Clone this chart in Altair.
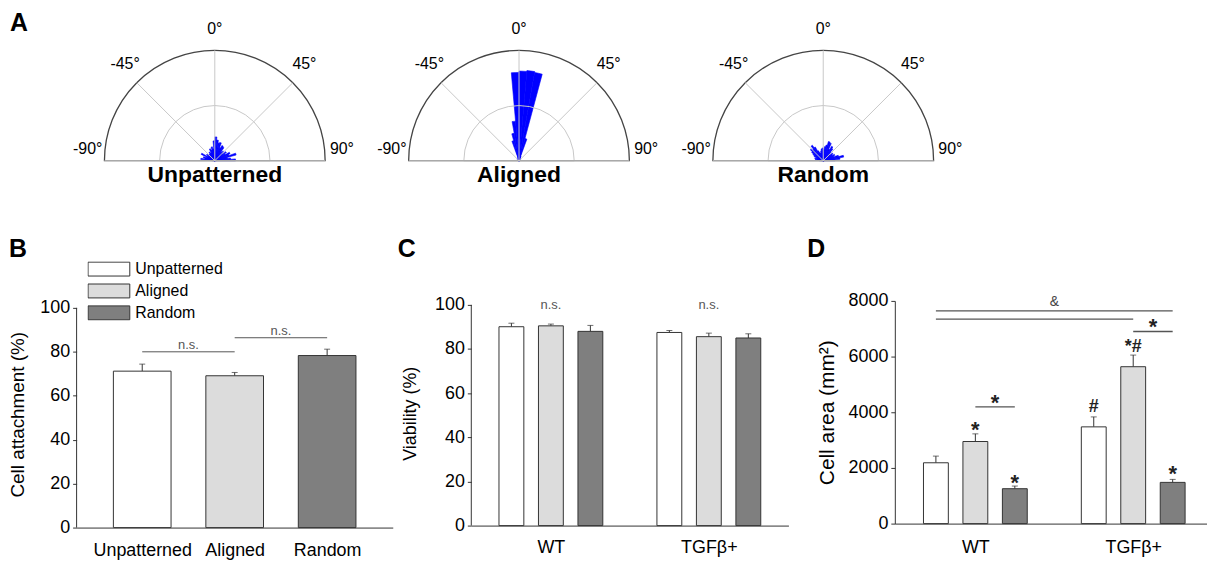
import json
import math
import numpy as np
import pandas as pd
import altair as alt

FONT = "Liberation Sans"
INK = "#333333"
GRID = "#c8c8c8"
ROSE = "#0000ff"

# ---------------- Panel A: angular distribution (% of cells per 5-degree bin) -------------
bin_starts = list(range(-90, 90, 5))
bin_width = 5
rose_unpatterned = [0.7, 3.2, 2.3, 2.7, 2.0, 3.4, 1.8, 2.3, 1.6, 2.0, 1.8, 2.3, 2.0, 2.9, 2.5, 3.2, 2.7, 4.5,
                    5.4, 4.7, 4.1, 4.3, 3.2, 3.8, 3.6, 2.5, 2.9, 2.3, 3.2, 2.7, 3.8, 3.4, 5.0, 2.9, 3.6, 4.7]
rose_aligned = [0.2, 0.2, 0.2, 0.2, 0.5, 0.2, 0.2, 0.2, 0.5, 0.2, 0.5, 0.2, 0.5, 0.7, 4.7, 6.3, 9.0, 20.0,
                20.3, 20.5, 20.3, 5.2, 1.1, 0.5, 0.2, 0.5, 0.2, 0.2, 0.2, 0.5, 0.2, 0.2, 0.2, 0.2, 0.2, 0.2]
rose_random = [0.9, 1.8, 1.4, 2.0, 1.6, 2.3, 2.7, 3.2, 3.8, 3.4, 4.3, 3.6, 2.5, 2.0, 1.8, 2.3, 2.7, 2.9,
               2.5, 3.2, 3.6, 4.5, 4.3, 2.9, 3.8, 3.4, 2.5, 2.0, 2.7, 2.3, 2.9, 2.5, 3.6, 4.7, 3.8, 2.7]
grid_angles = [-90, -45, 0, 45, 90]
angle_labels = ["-90°", "-45°", "0°", "45°", "90°"]
ring_pct = [12.5, 25.0]
polar_titles = ["Unpatterned", "Aligned", "Random"]

# ---------------- Panel B: cell attachment ----------------
conditions = ["Unpatterned", "Aligned", "Random"]
cond_colors = ["#ffffff", "#dcdcdc", "#7f7f7f"]
attach_mean = [71.2, 69.1, 78.3]
attach_err = [3.2, 1.5, 2.9]
attach_ns_from = [0, 1]
attach_ns_to = [1, 2]
attach_ns_y = [80.0, 86.4]

# ---------------- Panel C: viability ----------------
groups = ["WT", "TGFβ+"]
via_wt = [90.1, 90.5, 88.0]
via_wt_err = [1.6, 0.8, 2.7]
via_tgf = [87.5, 85.6, 85.0]
via_tgf_err = [0.9, 1.6, 1.9]
via_ns_pos = [1, 5]
via_ns_y = [97.0, 97.0]

# ---------------- Panel D: cell area ----------------
area_wt = [2185, 2949, 1254]
area_wt_err = [240, 275, 95]
area_tgf = [3475, 5636, 1481]
area_tgf_err = [358, 418, 107]
bracket_from = [0, 0, 5, 1]
bracket_to = [6, 5, 6, 2]
bracket_y = [7642, 7343, 6901, 4191]
star_pos = [1, 2, 1.5, 6, 5.5]
star_y = [3558, 1684, 4537, 2006, 7260]
hash_pos = [4, 5]
hash_y = [4275, 6400]
hash_text = ["#", "*#"]
amp_pos = [3]
amp_y = [8012]

# ======================= Panel A builder =======================
PX = 111.0 / 25.0  # pixels per percent


def polar_panel(title, values, left_px, letter=None):
    right_px, top_px, bottom_px = 150, 152, 43
    xs = alt.Scale(domain=[-left_px / PX, right_px / PX], nice=False, zero=False)
    ys = alt.Scale(domain=[-bottom_px / PX, top_px / PX], nice=False, zero=False)
    ts = alt.Scale(domain=[-90, 90], range=[1.5 * math.pi, 2.5 * math.pi])
    rs = alt.Scale(type="linear", domain=[0, 25], range=[0, 111], zero=True)

    rose = pd.DataFrame({"a0": bin_starts, "r": values})
    rose["a1"] = rose["a0"] + bin_width

    spokes = pd.DataFrame({"a": grid_angles})
    rad = np.radians(spokes["a"])
    spokes["x0"] = 0.0
    spokes["y0"] = 0.0
    spokes["x1"] = ring_pct[-1] * np.sin(rad)
    spokes["y1"] = ring_pct[-1] * np.cos(rad)

    spoke_layer = alt.Chart(spokes).mark_rule(color=GRID, strokeWidth=1).encode(
        x=alt.X("x0:Q", scale=xs, axis=None), y=alt.Y("y0:Q", scale=ys, axis=None),
        x2="x1:Q", y2="y1:Q")

    # polar origin in pixels inside this panel (layout, not data)
    cx, cy = alt.value(left_px), alt.value(top_px)

    rose_layer = alt.Chart(rose).mark_arc(fill=ROSE, stroke=ROSE, strokeWidth=0.6).encode(
        x=cx, y=cy,
        theta=alt.Theta("a0:Q", scale=ts, stack=None), theta2="a1:Q",
        radius=alt.Radius("r:Q", scale=rs))

    rings = pd.DataFrame({"a0": [-90.0, -90.0], "a1": [90.0, 90.0], "r": ring_pct})

    def ring_layer(idx, color, width):
        return alt.Chart(rings.iloc[[idx]]).mark_arc(filled=False, stroke=color, strokeWidth=width).encode(
            x=cx, y=cy,
            theta=alt.Theta("a0:Q", scale=ts, stack=None), theta2="a1:Q",
            radius=alt.Radius("r:Q", scale=rs))

    lab = pd.DataFrame({"a": grid_angles, "t": angle_labels})
    side = lab["a"].abs() == 90
    rad = np.radians(lab["a"] * 0.955)   # labels sit slightly toward the vertical
    lab["x"] = np.where(side, 28.8 * np.sign(lab["a"]), 29.8 * np.sin(rad))
    lab["y"] = np.where(side, 2.7, 29.8 * np.cos(rad))
    label_layer = alt.Chart(lab).mark_text(font=FONT, fontSize=16, color="black").encode(
        x=alt.X("x:Q", scale=xs, axis=None), y=alt.Y("y:Q", scale=ys, axis=None), text="t:N")

    tdf = pd.DataFrame({"t": [title], "x": [0.0], "y": [-3.2]})
    title_layer = alt.Chart(tdf).mark_text(font=FONT, fontSize=23, fontWeight="bold", color="black").encode(
        x=alt.X("x:Q", scale=xs, axis=None), y=alt.Y("y:Q", scale=ys, axis=None), text="t:N")

    layers = [rose_layer, ring_layer(0, GRID, 1), ring_layer(1, "#444444", 1.3), spoke_layer,
              label_layer, title_layer]
    if letter:
        layers.append(alt.Chart(pd.DataFrame({"t": [letter]})).mark_text(
            font=FONT, fontSize=25, fontWeight="bold", color="black").encode(
            text="t:N", x=alt.value(-58), y=alt.value(14)))
    return alt.layer(*layers).properties(width=left_px + right_px, height=top_px + bottom_px)


pA1 = polar_panel(polar_titles[0], rose_unpatterned, 139, letter="A")
pA2 = polar_panel(polar_titles[1], rose_aligned, 150)
pA3 = polar_panel(polar_titles[2], rose_random, 150)

# ======================= Bar panel helpers =======================
color_scale = alt.Scale(domain=conditions, range=cond_colors)


def letter_layer(letter, x, y):
    return alt.Chart(pd.DataFrame({"t": [letter]})).mark_text(
        font=FONT, fontSize=25, fontWeight="bold", color="black", align="center", baseline="middle").encode(
        text="t:N", x=alt.value(x), y=alt.value(y))


def spacer_layer(x):
    # invisible text that only widens the panel's bounds to the left
    return alt.Chart(pd.DataFrame({"t": [" "]})).mark_text(
        font=FONT, fontSize=14, color="white", align="left").encode(
        text="t:N", x=alt.value(x), y=alt.value(0))


def axis_line_layer(lo, hi, ys, yaxis):
    # y-axis line that stops at the last labelled tick
    return alt.Chart(pd.DataFrame({"lo": [lo], "hi": [hi]})).mark_rule(color=INK, strokeWidth=1).encode(
        x=alt.value(0), y=alt.Y("lo:Q", scale=ys, axis=yaxis), y2="hi:Q")


def bar_layers(df, xs, ys, xaxis, yaxis, bar_size, legend):
    enc_x = alt.X("pos:Q", scale=xs, axis=xaxis)
    base = alt.Chart(df)
    err = base.mark_rule(color=INK, strokeWidth=1).encode(
        x=enc_x, y=alt.Y("mean:Q", scale=ys, axis=yaxis), y2="upper:Q")
    bars = base.mark_bar(size=bar_size, orient="vertical", stroke=INK, strokeWidth=1).encode(
        x=enc_x, y=alt.Y("mean:Q", scale=ys, axis=yaxis, stack=None),
        color=alt.Color("cond:N", scale=color_scale, legend=legend))
    caps = base.mark_tick(orient="horizontal", size=6, thickness=1, color=INK).encode(
        x=enc_x, y=alt.Y("upper:Q", scale=ys, axis=yaxis))
    return [err, bars, caps]


def y_axis(values, title, title_size, title_x, show_domain=True):
    return alt.Axis(values=values, title=title, titleFontSize=title_size, titleFontWeight="normal",
                    titleColor="black", titleX=title_x, titleBaseline="middle", titleFont=FONT,
                    tickSize=4, tickColor=INK, domain=show_domain, domainColor=INK, labelFontSize=18,
                    labelPadding=3, labelColor="black", labelFont=FONT, grid=False, format="d")


# ======================= Panel B =======================
b_df = pd.DataFrame({"cond": conditions, "mean": attach_mean, "err": attach_err})
b_df["pos"] = list(range(len(conditions)))
b_df["upper"] = b_df["mean"] + b_df["err"]

xB = alt.Scale(domain=[-0.656, 2.656], nice=False, zero=False)
yB = alt.Scale(domain=[0, 103.17], nice=False, zero=True)
xaxB = alt.Axis(values=list(range(len(conditions))),
                labelExpr=json.dumps(conditions) + "[datum.value]",
                title=None, ticks=False, labelFontSize=18, labelPadding=14, labelOverlap=False,
                labelFlush=False, domainColor=INK, labelColor="black", labelFont=FONT, grid=False)
yaxB = y_axis([0, 20, 40, 60, 80, 100], "Cell attachment (%)", 19, -59, show_domain=False)

legB = alt.Legend(orient="none", legendX=11, legendY=-40, title=None, direction="vertical",
                  symbolType="M-1,-0.333H1V0.333H-1Z", symbolSize=1764, symbolStrokeColor=INK,
                  symbolStrokeWidth=1, labelFontSize=16, labelFont=FONT, labelColor="black",
                  labelOffset=5, clipHeight=16, rowPadding=6, padding=0)

ns_b = pd.DataFrame({"x0": attach_ns_from, "x1": attach_ns_to, "y": attach_ns_y})
ns_b["xm"] = (ns_b["x0"] + ns_b["x1"]) / 2
ns_b_rules = alt.Chart(ns_b).mark_rule(color="#555555", strokeWidth=1).encode(
    x=alt.X("x0:Q", scale=xB, axis=xaxB), x2="x1:Q", y=alt.Y("y:Q", scale=yB, axis=yaxB))
ns_b_text = alt.Chart(ns_b).mark_text(text="n.s.", font=FONT, fontSize=13, color="#555555",
                                       baseline="bottom").encode(
    x=alt.X("xm:Q", scale=xB, axis=xaxB), y=alt.Y("y:Q", scale=yB, axis=yaxB))

pB = alt.layer(axis_line_layer(0, 100, yB, yaxB), *bar_layers(b_df, xB, yB, xaxB, yaxB, 58, legB),
               ns_b_rules, ns_b_text, letter_layer("B", -59, -52)).properties(width=318, height=228)


# ======================= Panels C & D data =======================
def grouped_frame(means, errs):
    rows = []
    for gi, (m, e) in enumerate(zip(means, errs)):
        for ci, cond in enumerate(conditions):
            rows.append({"group": groups[gi], "cond": cond,
                         "pos": gi * (len(conditions) + 1) + ci, "mean": m[ci], "err": e[ci]})
    df = pd.DataFrame(rows)
    df["upper"] = df["mean"] + df["err"]
    return df


group_centers = [gi * (len(conditions) + 1) + 1 for gi in range(len(groups))]
group_label_expr = json.dumps(groups, ensure_ascii=False) + "[floor(datum.value / 4)]"


def group_x_axis(pad):
    return alt.Axis(values=group_centers, labelExpr=group_label_expr, title=None, ticks=False,
                    labelFontSize=18, labelPadding=pad, labelOverlap=False, labelFlush=False,
                    domainColor=INK, labelColor="black", labelFont=FONT, grid=False)


# ======================= Panel C =======================
c_df = grouped_frame([via_wt, via_tgf], [via_wt_err, via_tgf_err])
xC = alt.Scale(domain=[-0.89, 6.89], nice=False, zero=False)
yC = alt.Scale(domain=[0, 101.8], nice=False, zero=True)
xaxC = group_x_axis(13)
yaxC = y_axis([0, 20, 40, 60, 80, 100], "Viability (%)", 18, -61, show_domain=False)

ns_c = pd.DataFrame({"x": via_ns_pos, "y": via_ns_y})
ns_c_text = alt.Chart(ns_c).mark_text(text="n.s.", font=FONT, fontSize=13, color="#555555",
                                       baseline="bottom").encode(
    x=alt.X("x:Q", scale=xC, axis=xaxC), y=alt.Y("y:Q", scale=yC, axis=yaxC))

pC = alt.layer(axis_line_layer(0, 100, yC, yaxC), *bar_layers(c_df, xC, yC, xaxC, yaxC, 25, None),
               ns_c_text, letter_layer("C", -65, -52)).properties(width=319, height=226)

# ======================= Panel D =======================
d_df = grouped_frame([area_wt, area_tgf], [area_wt_err, area_tgf_err])
xD = alt.Scale(domain=[-0.915, 6.744], nice=False, zero=False)
yD = alt.Scale(domain=[0, 8000], nice=False, zero=True)
xaxD = group_x_axis(15)
yaxD = y_axis([0, 2000, 4000, 6000, 8000], "Cell area (mm²)", 21, -68)

br = pd.DataFrame({"x0": bracket_from, "x1": bracket_to, "y": bracket_y})
br_layer = alt.Chart(br).mark_rule(color="#555555", strokeWidth=1.3).encode(
    x=alt.X("x0:Q", scale=xD, axis=xaxD), x2="x1:Q", y=alt.Y("y:Q", scale=yD, axis=yaxD))
stars = pd.DataFrame({"x": star_pos, "y": star_y})
star_layer = alt.Chart(stars).mark_text(text="*", font=FONT, fontSize=22, fontWeight="bold",
                                        color="#222222", dy=6).encode(
    x=alt.X("x:Q", scale=xD, axis=xaxD), y=alt.Y("y:Q", scale=yD, axis=yaxD))
hashes = pd.DataFrame({"x": hash_pos, "y": hash_y, "t": hash_text})
hash_layer = alt.Chart(hashes).mark_text(font=FONT, fontSize=18, fontWeight="bold",
                                         color="#222222", dy=2).encode(
    x=alt.X("x:Q", scale=xD, axis=xaxD), y=alt.Y("y:Q", scale=yD, axis=yaxD), text="t:N")
amps = pd.DataFrame({"x": amp_pos, "y": amp_y})
amp_layer = alt.Chart(amps).mark_text(text="&", font=FONT, fontSize=14, color="#444444", dy=1).encode(
    x=alt.X("x:Q", scale=xD, axis=xaxD), y=alt.Y("y:Q", scale=yD, axis=yaxD))

pD = alt.layer(*bar_layers(d_df, xD, yD, xaxD, yaxD, 25, None), br_layer, star_layer, hash_layer,
               amp_layer, letter_layer("D", -79, -52), spacer_layer(-103)).properties(width=314, height=224)

# ======================= Assemble =======================
top = alt.hconcat(pA1, pA2, pA3, spacing=6)
bottom = alt.hconcat(pB, pC, pD, spacing=4).resolve_scale(color="independent")

chart = (
    alt.vconcat(top, bottom, spacing=34)
    .properties(padding=0)
    .configure(font=FONT)
    .configure_view(stroke=None)
)

chart.save("out.html", embed_options={"renderer": "svg", "actions": False})
